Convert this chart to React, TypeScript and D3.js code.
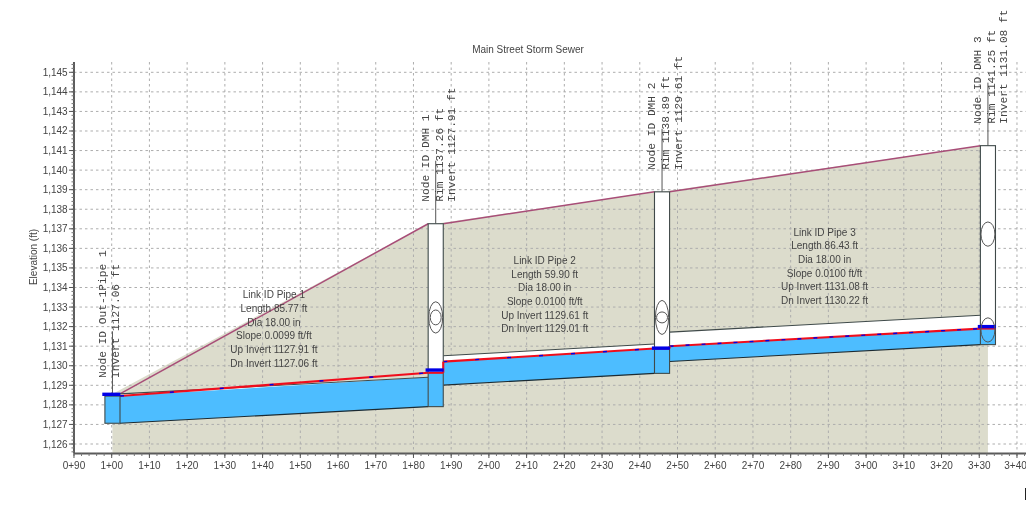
import React from "react";
import * as d3 from "d3";

const WIDTH = 1026;
const HEIGHT = 529;

// ---- data -------------------------------------------------------------
const title = "Main Street Storm Sewer";
const yTitle = "Elevation (ft)";
const yTickValues = d3.range(1126, 1146);
const xTickValues = d3.range(90, 350, 10);

// manholes
const nodeStations = [100.2, 185.9, 245.9, 332.3];
const nodeRims = [1128.56, 1137.26, 1138.89, 1141.25];
const nodeFloors = [1127.06, 1127.91, 1129.61, 1131.08];
const nodeWater = [1128.45, 1129.64, 1130.88, 1131.9];
const nodeBars = [1128.54, 1129.78, 1130.9, 1132.0];
const nodeLabels = [
  ["Node ID Out-1Pipe 1", "Invert 1127.06 ft"],
  ["Node ID DMH 1", "Rim 1137.26 ft", "Invert 1127.91 ft"],
  ["Node ID DMH 2", "Rim 1138.89 ft", "Invert 1129.61 ft"],
  ["Node ID DMH 3", "Rim 1141.25 ft", "Invert 1131.08 ft"],
];

// pipes
const pipeDnInverts = [1127.06, 1129.01, 1130.22];
const pipeUpInverts = [1127.91, 1129.61, 1131.08];
const pipeDiameter = 1.5;
const pipeHglStart = [1128.45, 1130.21, 1131.0];
const pipeHglEnd = [1129.64, 1130.88, 1131.9];
const pipeLabels = [
  ["Link ID Pipe 1", "Length 85.77 ft", "Dia 18.00 in", "Slope 0.0099 ft/ft", "Up Invert 1127.91 ft", "Dn Invert 1127.06 ft"],
  ["Link ID Pipe 2", "Length 59.90 ft", "Dia 18.00 in", "Slope 0.0100 ft/ft", "Up Invert 1129.61 ft", "Dn Invert 1129.01 ft"],
  ["Link ID Pipe 3", "Length 86.43 ft", "Dia 18.00 in", "Slope 0.0100 ft/ft", "Up Invert 1131.08 ft", "Dn Invert 1130.22 ft"],
];
const pipeLabelStations = [143.0, 214.8, 289.0];
const pipeLabelElevations = [1133.45, 1135.2, 1136.65];

// section ellipses
const ellipseStations = [185.9, 185.9, 245.9, 245.9, 332.3, 332.3];
const ellipseElevations = [1132.47, 1132.47, 1132.47, 1132.47, 1136.73, 1131.83];
const ellipseRx = [1.85, 1.45, 1.75, 1.45, 1.85, 1.85];
const ellipseRy = [0.8, 0.38, 0.87, 0.28, 0.62, 0.62];

// ---- styles -----------------------------------------------------------
const GROUND = "#dcdccc";
const WATER = "#4dbdff";
const RIM = "#a84e78";
const RED = "#f0101e";
const BLUE = "#0000e6";
const OUT = "#3f4a4a";
const GRID = "#adadad";
const TEXT = "#444";
const SANS = "'Liberation Sans', Arial, sans-serif";
const MONO = "'Liberation Mono', monospace";
const HALF = 2; // manhole half width in feet
const dashes = ["4 46", "4 28", "4 12"];

const x = d3.scaleLinear().domain([100, 100 + (1026 - 111.7) / 3.772]).range([111.7, 1026]);
const xAxisLeft = x(90);
const y = d3.scaleLinear().domain([1126, 1145]).range([444, 72.3]);
const yBottom = 453.5;
const yTop = 62;

const stationLabel = (s: number) =>
  `${Math.floor(s / 100)}+${String(s % 100).padStart(2, "0")}`;
const line = d3.line<[number, number]>().x((d) => x(d[0])).y((d) => y(d[1]));

export default function App() {
  const ground = (() => {
    const pts: [number, number][] = nodeStations.map((s, i) => [s, nodeRims[i]]);
    const first = nodeStations[0];
    const last = nodeStations[nodeStations.length - 1];
    const top = `M${x(first)},${y(nodeRims[0])}` +
      pts.slice(1).map((p) => `L${x(p[0] - HALF)},${y(p[1])}L${x(p[0])},${y(p[1])}`).join("");
    return `${top}L${x(last)},${yBottom}L${x(first)},${yBottom}Z`;
  })();

  return (
    <svg
      width={WIDTH}
      height={HEIGHT}
      viewBox={`0 0 ${WIDTH} ${HEIGHT}`}
      style={{ position: "absolute", left: 0, top: 0, background: "#fff" }}
    >
      <defs>
        <filter id="soft" x="0" y="0" width="100%" height="100%">
          <feGaussianBlur stdDeviation="0.5" />
        </filter>
      </defs>
      <g filter="url(#soft)">
        <rect width={WIDTH} height={HEIGHT} fill="#fff" />
        {/* ground */}
        <path d={ground} fill={GROUND} />

        {/* grid */}
        {yTickValues.map((v) => (
          <line key={v} x1={xAxisLeft} x2={WIDTH} y1={y(v)} y2={y(v)} stroke={GRID} strokeDasharray="2.5 3" />
        ))}
        {xTickValues.slice(1).map((s) => (
          <line key={s} x1={x(s)} x2={x(s)} y1={yTop} y2={yBottom} stroke={GRID} strokeDasharray="2.5 3" />
        ))}

        {/* rim line */}
        {nodeStations.slice(1).map((s, i) => {
          const from: [number, number] = [nodeStations[i] + HALF, nodeRims[i]];
          return (
            <path key={s} d={line([from, [s - HALF, nodeRims[i + 1]]]) ?? ""} fill="none" stroke={RIM} strokeWidth={1.5} />
          );
        })}

        {/* pipes */}
        {pipeDnInverts.map((dn, i) => {
          const s0 = nodeStations[i] + HALF;
          const s1 = nodeStations[i + 1] - HALF;
          const up = pipeUpInverts[i];
          const crown: [number, number][] = [[s0, dn + pipeDiameter], [s1, up + pipeDiameter]];
          const invert: [number, number][] = [[s0, dn], [s1, up]];
          const hgl: [number, number][] = [[s0, pipeHglStart[i]], [s1, pipeHglEnd[i]]];
          const waterTop: [number, number][] = [
            [s0, Math.min(pipeHglStart[i], dn + pipeDiameter)],
            [s1, Math.min(pipeHglEnd[i], up + pipeDiameter)],
          ];
          const ring = (a: [number, number][], b: [number, number][]) =>
            (line([...a, b[1], b[0]]) ?? "") + "Z";
          return (
            <g key={i}>
              <path d={ring(crown, invert)} fill="#fff" />
              <path d={ring(waterTop, invert)} fill={WATER} />
              <path d={line(crown) ?? ""} fill="none" stroke={OUT} strokeWidth={1.1} />
              <path d={line(invert) ?? ""} fill="none" stroke="#1c2a30" strokeWidth={1.1} />
              <path d={line(hgl) ?? ""} fill="none" stroke={RED} strokeWidth={2.1} />
              <path d={line(hgl) ?? ""} fill="none" stroke={BLUE} strokeWidth={1.4} strokeDasharray={dashes[i]} />
            </g>
          );
        })}

        {/* manholes */}
        {nodeStations.map((s, i) => {
          const x0 = x(s - HALF);
          const x1 = x(s + HALF);
          const rimTop = i === 0 ? nodeWater[0] : nodeRims[i];
          const stemBottom = y(i === 0 ? nodeBars[0] : nodeRims[i]);
          return (
            <g key={s}>
              <line x1={x(s)} x2={x(s)} y1={stemBottom - 63} y2={stemBottom} stroke="#555" strokeWidth={1} />
              <rect x={x0} y={y(rimTop)} width={x1 - x0} height={y(nodeFloors[i]) - y(rimTop)} fill="#fff" />
              <rect x={x0} y={y(nodeWater[i])} width={x1 - x0} height={y(nodeFloors[i]) - y(nodeWater[i])} fill={WATER} />
              <rect x={x0} y={y(rimTop)} width={x1 - x0} height={y(nodeFloors[i]) - y(rimTop)} fill="none" stroke={OUT} strokeWidth={1.1} />
              {i > 0 && (
                <line x1={x0} x2={x1} y1={y(nodeWater[i])} y2={y(nodeWater[i])} stroke={RED} strokeWidth={2.1} />
              )}
              {i > 0 && (
                <line x1={x1} x2={x1} y1={y(nodeWater[i])} y2={y(pipeHglStart[i] ?? nodeWater[i])} stroke={RED} strokeWidth={2.1} />
              )}
              <rect x={x0 - 2.6} y={y(nodeBars[i]) - 1.7} width={x1 - x0 + 3} height={3.4} fill={BLUE} />
            </g>
          );
        })}

        {/* section ellipses */}
        {ellipseStations.map((s, i) => (
          <ellipse
            key={i}
            cx={x(s)}
            cy={y(ellipseElevations[i])}
            rx={x(s + ellipseRx[i]) - x(s)}
            ry={y(ellipseElevations[i]) - y(ellipseElevations[i] + ellipseRy[i])}
            fill="none"
            stroke="#555"
            strokeWidth={1}
          />
        ))}

        {/* axes */}
        <line x1={xAxisLeft} x2={xAxisLeft} y1={yTop} y2={yBottom} stroke="#5a5a5a" strokeWidth={2} />
        <line x1={xAxisLeft} x2={WIDTH} y1={yBottom} y2={yBottom} stroke="#5a5a5a" strokeWidth={2} />
        {d3.range(0, 98).map((k) => {
          const v = 1126 + k * 0.2;
          return <line key={k} x1={xAxisLeft - 2.5} x2={xAxisLeft} y1={y(v)} y2={y(v)} stroke="#777" />;
        })}
        {[1125.6, 1125.8].map((v) => (
          <line key={v} x1={xAxisLeft - 2.5} x2={xAxisLeft} y1={y(v)} y2={y(v)} stroke="#777" />
        ))}
        {yTickValues.map((v) => (
          <g key={v}>
            <line x1={xAxisLeft - 5} x2={xAxisLeft} y1={y(v)} y2={y(v)} stroke="#555" />
            <text x={67.7} y={y(v) + 3.5} textAnchor="end" fontFamily={SANS} fontSize={10} fill={TEXT}>
              {d3.format(",")(v)}
            </text>
          </g>
        ))}
        {d3.range(90, 344, 2).map((s) => (
          <line key={s} x1={x(s)} x2={x(s)} y1={yBottom} y2={yBottom + 2.5} stroke="#777" />
        ))}
        {xTickValues.map((s) => (
          <g key={s}>
            <line x1={x(s)} x2={x(s)} y1={yBottom} y2={yBottom + 4.5} stroke="#555" />
            <text
              x={Math.min(x(s), WIDTH - 10.5)}
              y={468.5}
              textAnchor="middle"
              fontFamily={SANS}
              fontSize={10}
              fill={TEXT}
            >
              {stationLabel(s)}
            </text>
          </g>
        ))}

        {/* titles */}
        <text x={528} y={52.5} textAnchor="middle" fontFamily={SANS} fontSize={10} fill={TEXT}>
          {title}
        </text>
        <text
          transform={`translate(36.5,257) rotate(-90)`}
          textAnchor="middle"
          fontFamily={SANS}
          fontSize={10}
          fill={TEXT}
        >
          {yTitle}
        </text>

        {/* pipe labels */}
        {pipeLabels.map((lines, i) => (
          <text key={i} textAnchor="middle" fontFamily={SANS} fontSize={10} fill={TEXT}>
            {lines.map((t, j) => (
              <tspan key={j} x={x(pipeLabelStations[i])} y={y(pipeLabelElevations[i]) + j * 13.65}>
                {t}
              </tspan>
            ))}
          </text>
        ))}

        {/* node labels */}
        {nodeLabels.map((lines, i) => {
          const bottom = i === 0 ? y(nodeRims[0]) - 16 : y(nodeRims[i]) - 22;
          const offs = i === 0 ? [-9, 4] : [-10, 4, 16.5];
          return lines.map((t, j) => (
            <text
              key={`${i}-${j}`}
              transform={`translate(${x(nodeStations[i]) + offs[j] + 3},${bottom}) rotate(-90)`}
              fontFamily={MONO}
              fontSize={11.2}
              fill="#444"
            >
              {t}
            </text>
          ));
        })}

        <rect x={1025} y={488} width={1} height={12} fill="#222" />
      </g>
    </svg>
  );
}
